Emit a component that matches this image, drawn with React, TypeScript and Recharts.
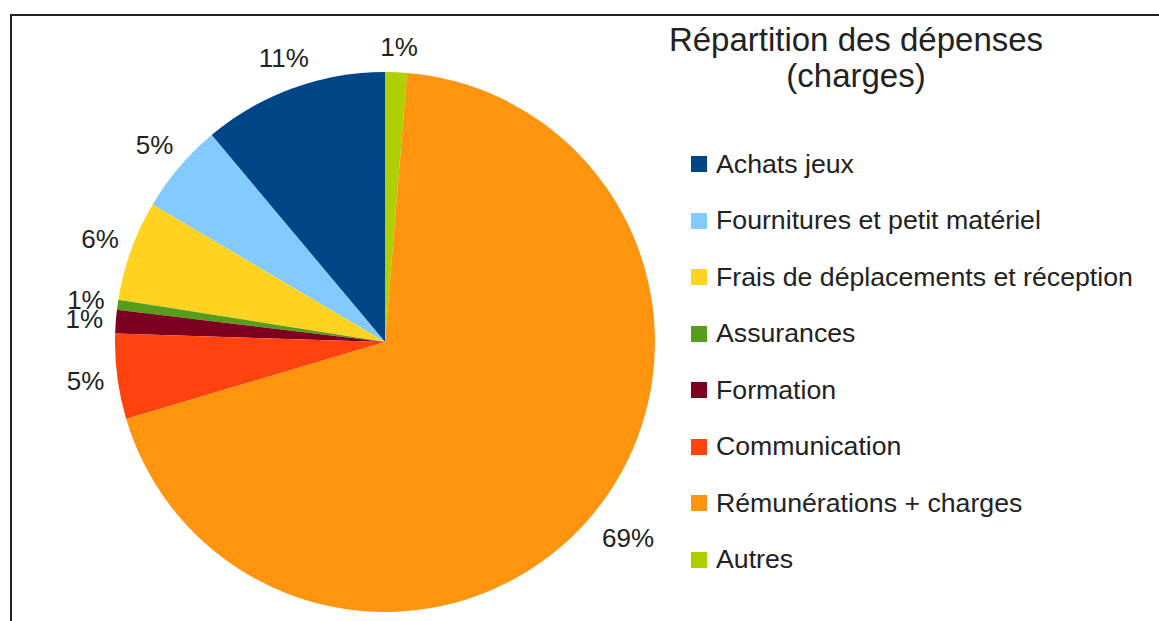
import { PieChart, Pie, Cell } from 'recharts';

const categories = [
  'Achats jeux',
  'Fournitures et petit matériel',
  'Frais de déplacements et réception',
  'Assurances',
  'Formation',
  'Communication',
  'Rémunérations + charges',
  'Autres',
];
const shares = [11.1, 5.4, 6.0, 0.6, 1.4, 5.1, 69.1, 1.3];
const colors = ['#004586', '#83caff', '#ffd320', '#579d1c', '#7e0021', '#ff420e', '#ff950e', '#aecf00'];

const data = categories.map((name, i) => ({ name, value: shares[i] }));

const FONT = '"Liberation Sans", Arial, sans-serif';
const LABEL_SIZE = 26;
const RADIAN = Math.PI / 180;

// label placed outside the slice, like LibreOffice does
const renderLabel = (props: any) => {
  const { cx, cy, midAngle, outerRadius, percent } = props;
  const text = `${Math.round(percent * 100)}%`;
  const dx = Math.cos(midAngle * RADIAN);
  const dy = -Math.sin(midAngle * RADIAN);
  const w = ((text.length - 1) * 0.556 + 0.889) * LABEL_SIZE;
  const support = (w / 2) * Math.abs(dx) + 10 * Math.abs(dy);
  const r = outerRadius + 14 + support;
  return (
    <text
      x={cx + r * dx + 2}
      y={cy + r * dy}
      textAnchor="middle"
      dominantBaseline="central"
      fill="#222"
      fontSize={LABEL_SIZE}
      fontFamily={FONT}
    >
      {text}
    </text>
  );
};

function ChartLegend() {
  return (
    <div style={{ position: 'absolute', left: 691, top: 136, fontFamily: FONT, fontSize: 26.7, color: '#222' }}>
      {categories.map((name, i) => (
        <div key={name} style={{ display: 'flex', alignItems: 'center', height: 56.5 }}>
          <span style={{ width: 16, height: 16, background: colors[i], marginRight: 9, flexShrink: 0 }} />
          <span style={{ whiteSpace: 'nowrap' }}>{name}</span>
        </div>
      ))}
    </div>
  );
}

export default function App() {
  return (
    <div style={{ position: 'absolute', left: 0, top: 0, width: 1159, height: 621, background: '#fff' }}>
      <div
        style={{
          position: 'absolute',
          left: 10,
          top: 14,
          right: 0,
          bottom: 0,
          borderTop: '2px solid #222',
          borderLeft: '2px solid #222',
        }}
      />
      <div style={{ position: 'absolute', left: 0, top: 0 }}>
        <PieChart width={1159} height={621} margin={{ top: 0, right: 0, bottom: 0, left: 0 }}>
          <text x={856} y={51} textAnchor="middle" fontFamily={FONT} fontSize={33} fill="#222">
            Répartition des dépenses
          </text>
          <text x={856} y={87} textAnchor="middle" fontFamily={FONT} fontSize={33} fill="#222">
            (charges)
          </text>
          <Pie
            data={data}
            dataKey="value"
            nameKey="name"
            cx={385}
            cy={342}
            outerRadius={270}
            startAngle={90}
            endAngle={450}
            stroke="none"
            label={renderLabel}
            labelLine={false}
            isAnimationActive={false}
          >
            {data.map((_, i) => (
              <Cell key={i} fill={colors[i]} />
            ))}
          </Pie>
        </PieChart>
      </div>
      <ChartLegend />
    </div>
  );
}
